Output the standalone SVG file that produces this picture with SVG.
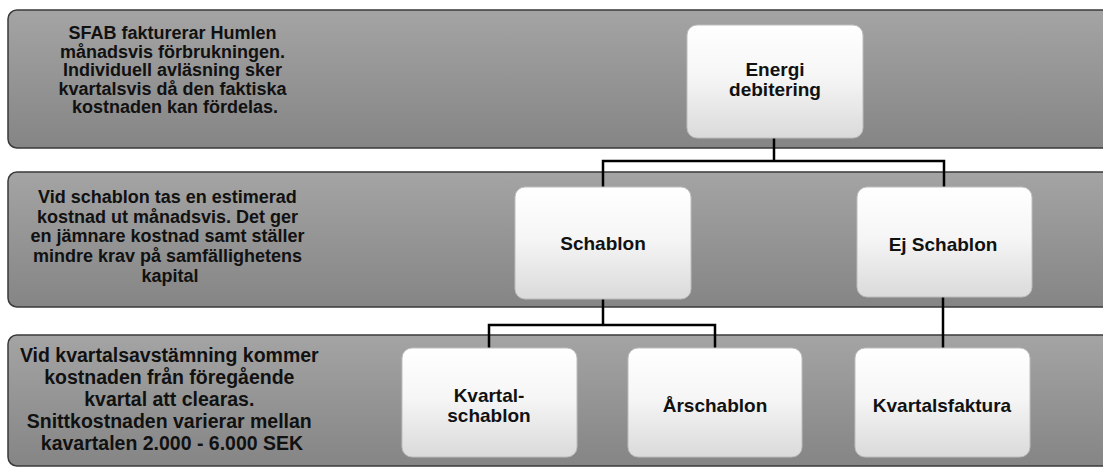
<svg xmlns="http://www.w3.org/2000/svg" width="1103" height="468" viewBox="0 0 1103 468">
  <defs>
    <linearGradient id="bandFill" x1="0" y1="0" x2="0" y2="1">
      <stop offset="0" stop-color="#a4a4a4"/>
      <stop offset="1" stop-color="#858585"/>
    </linearGradient>
    <linearGradient id="nodeFill" x1="0" y1="0" x2="0" y2="1">
      <stop offset="0" stop-color="#ffffff"/>
      <stop offset="0.45" stop-color="#f6f6f6"/>
      <stop offset="1" stop-color="#dadada"/>
    </linearGradient>
  </defs>
  <style>
    .band { fill: url(#bandFill); stroke: #3a3a3a; stroke-width: 1.5; }
    .node { fill: url(#nodeFill); stroke: #bdbdbd; stroke-width: 1; }
    .desc { font-family: "Liberation Sans", Arial, sans-serif; font-size: 18px; font-weight: bold; fill: #111; text-anchor: middle; }
    .lbl { font-family: "Liberation Sans", Arial, sans-serif; font-size: 19px; font-weight: bold; fill: #111; text-anchor: middle; }
    .conn { fill: none; stroke: #000; stroke-width: 2.5; }
  </style>
  <rect width="1103" height="468" fill="#ffffff"/>

  <g id="row1">
    <rect class="band" x="8" y="10" width="1110" height="138" rx="9"/>
    <text class="desc" x="175">
      <tspan x="175" y="39">SFAB fakturerar Humlen</tspan>
      <tspan x="175" y="57.5">månadsvis förbrukningen.</tspan>
      <tspan x="175" y="76">Individuell avläsning sker</tspan>
      <tspan x="175" y="94.5">kvartalsvis då den faktiska</tspan>
      <tspan x="175" y="113">kostnaden kan fördelas.</tspan>
    </text>
  </g>
  <g id="row2">
    <rect class="band" x="8" y="172" width="1110" height="135" rx="9"/>
    <text class="desc" x="170">
      <tspan x="170" y="203">Vid schablon tas en estimerad</tspan>
      <tspan x="170" y="223">kostnad ut månadsvis. Det ger</tspan>
      <tspan x="170" y="242">en jämnare kostnad samt ställer</tspan>
      <tspan x="170" y="262">mindre krav på samfällighetens</tspan>
      <tspan x="170" y="282">kapital</tspan>
    </text>
  </g>
  <g id="row3">
    <rect class="band" x="8" y="335" width="1110" height="131" rx="9"/>
    <text class="desc" x="172" style="font-size:19.5px">
      <tspan x="172" y="362">Vid kvartalsavstämning kommer</tspan>
      <tspan x="172" y="384">kostnaden från föregående</tspan>
      <tspan x="172" y="406">kvartal att clearas.</tspan>
      <tspan x="172" y="428">Snittkostnaden varierar mellan</tspan>
      <tspan x="172" y="450">kavartalen 2.000 - 6.000 SEK</tspan>
    </text>
  </g>

  <g id="connectors">
    <path class="conn" d="M774,138 V161"/>
    <path class="conn" d="M603,187 V161 H944 V187"/>
    <path class="conn" d="M603,299 V325"/>
    <path class="conn" d="M489,348 V325 H715 V348"/>
    <path class="conn" d="M943,297 V348"/>
  </g>

  <g id="energi-debitering">
    <rect class="node" x="687" y="25" width="176" height="113" rx="10"/>
    <text class="lbl" x="775" y="76">Energi</text>
    <text class="lbl" x="775" y="96">debitering</text>
  </g>
  <g id="schablon">
    <rect class="node" x="515" y="187" width="176" height="112" rx="10"/>
    <text class="lbl" x="603" y="250">Schablon</text>
  </g>
  <g id="ej-schablon">
    <rect class="node" x="857" y="187" width="175" height="110" rx="10"/>
    <text class="lbl" x="943" y="251">Ej Schablon</text>
  </g>
  <g id="kvartalschablon">
    <rect class="node" x="402" y="348" width="175" height="109" rx="10"/>
    <text class="lbl" x="489" y="402">Kvartal-</text>
    <text class="lbl" x="489" y="422">schablon</text>
  </g>
  <g id="arschablon">
    <rect class="node" x="628" y="348" width="174" height="109" rx="10"/>
    <text class="lbl" x="715" y="412">Årschablon</text>
  </g>
  <g id="kvartalsfaktura">
    <rect class="node" x="855" y="348" width="175" height="109" rx="10"/>
    <text class="lbl" x="942" y="412">Kvartalsfaktura</text>
  </g>
</svg>
